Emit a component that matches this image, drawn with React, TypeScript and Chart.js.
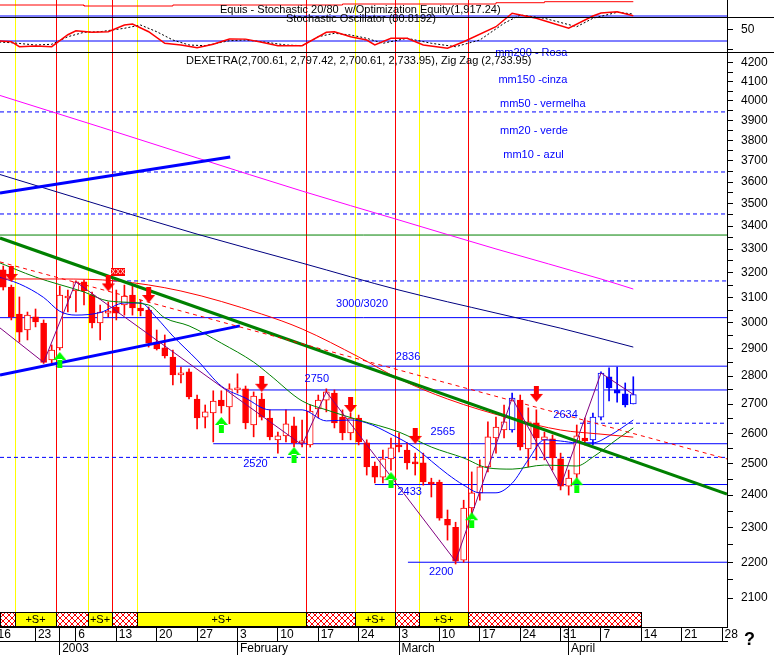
import React, { useEffect, useRef } from "react";
import { Chart, registerables } from "chart.js";

Chart.register(...registerables);

const FONT = '"Liberation Sans", Arial, sans-serif';

// x = trading-day index (0 = 23 Dec 2002)
const X_MIN = -4.4;
const X_MAX = 85.6;

const dayTickIdx = [-5, 0, 3, 5, 10, 15, 20, 25, 30, 35, 40, 45, 50, 55, 60, 65, 66, 70, 75, 80, 85];
const dayTickLabels = ["16", "23", "", "6", "13", "20", "27", "3", "10", "17", "24", "3", "10", "17", "24", "31", "", "7", "14", "21", "28"];
const monthTickIdx = [3, 25, 45, 66];
const monthTickLabels = ["2003", "February", "March", "April"];

const priceTicks = [2100, 2200, 2300, 2400, 2500, 2600, 2700, 2800, 2900, 3000, 3100, 3200, 3300, 3400, 3500, 3600, 3700, 3800, 3900, 4000, 4100, 4200];

const candleIdx = [
  -4, -3, -2, -1, 0, 1, 2, 3, 4, 5,
  6, 7, 8, 9, 10, 11, 12, 13, 14, 15,
  16, 17, 18, 19, 20, 21, 22, 23, 24, 25,
  26, 27, 28, 29, 30, 31, 32, 33, 34, 35,
  36, 37, 38, 39, 40, 41, 42, 43, 44, 45,
  46, 47, 48, 49, 50, 51, 52, 53, 54, 55,
  56, 57, 58, 59, 60, 61, 62, 63, 64, 65,
  66, 67, 68, 69, 70, 71, 72, 73, 74,
];
const opens = [
  3213, 3142, 3034, 2972, 3023, 2999, 2859, 2904, 3098, 3126,
  3163, 3110, 2999, 3038, 3062, 3070, 3110, 3058, 3050, 2926,
  2904, 2870, 2804, 2815, 2718, 2655, 2669, 2714, 2690, 2750,
  2754, 2628, 2718, 2652, 2578, 2591, 2625, 2568, 2561, 2683,
  2714, 2739, 2655, 2601, 2652, 2568, 2492, 2456, 2515, 2561,
  2544, 2502, 2502, 2441, 2441, 2326, 2302, 2206, 2360, 2407,
  2489, 2584, 2611, 2611, 2714, 2548, 2635, 2578, 2581, 2515,
  2428, 2466, 2584, 2578, 2655, 2797, 2750, 2736, 2700.61,
];
const highs = [
  3229, 3150, 3102, 3042, 3054, 3011, 2915, 3146, 3130, 3167,
  3171, 3122, 3070, 3082, 3130, 3150, 3154, 3090, 3062, 2972,
  2953, 2896, 2833, 2826, 2732, 2697, 2747, 2747, 2772, 2808,
  2764, 2743, 2739, 2680, 2604, 2680, 2655, 2645, 2697, 2732,
  2754, 2750, 2680, 2669, 2662, 2578, 2505, 2544, 2584, 2601,
  2568, 2534, 2534, 2453, 2447, 2354, 2317, 2384, 2473, 2512,
  2639, 2655, 2697, 2739, 2732, 2687, 2680, 2604, 2594, 2534,
  2479, 2628, 2652, 2669, 2815, 2830, 2833, 2775, 2797.42,
];
const lows = [
  3130, 3011, 2926, 2934, 2984, 2846, 2848, 2896, 3042, 3042,
  3070, 2980, 2934, 3023, 3011, 3030, 3030, 3027, 2907, 2896,
  2866, 2768, 2775, 2718, 2615, 2618, 2571, 2669, 2632, 2739,
  2615, 2588, 2645, 2578, 2534, 2571, 2554, 2554, 2554, 2652,
  2673, 2618, 2578, 2578, 2561, 2463, 2438, 2438, 2479, 2538,
  2482, 2463, 2431, 2394, 2323, 2264, 2195, 2200, 2332, 2384,
  2473, 2534, 2584, 2604, 2544, 2489, 2512, 2512, 2479, 2416,
  2400, 2453, 2561, 2561, 2645, 2711, 2707, 2690, 2700.61,
];
const closes = [
  3142, 3023, 2964, 3030, 3003, 2850, 2896, 3110, 3106, 3163,
  3126, 2999, 3042, 3046, 3038, 3106, 3058, 3046, 2922, 2900,
  2874, 2804, 2811, 2725, 2652, 2673, 2711, 2694, 2754, 2757,
  2635, 2728, 2655, 2588, 2591, 2632, 2568, 2574, 2676, 2714,
  2743, 2635, 2601, 2652, 2571, 2489, 2456, 2515, 2551, 2554,
  2502, 2499, 2441, 2434, 2329, 2308, 2203, 2360, 2407, 2489,
  2588, 2621, 2639, 2721, 2554, 2639, 2584, 2588, 2518, 2428,
  2453, 2591, 2574, 2655, 2811, 2757, 2739, 2697, 2733.95,
];
const blueCandles = [59, 69, 70, 71, 72, 73, 74];

// moving averages
const ma200Idx = [-5, 8, 20, 33, 45, 57, 70, 74];
const ma200Val = [4035, 3866, 3714, 3558, 3427, 3301, 3175, 3134];
const ma150Idx = [-5, 8, 20, 33, 45, 57, 65, 74];
const ma150Val = [3642, 3494, 3365, 3241, 3130, 3038, 2979, 2907];
const ma50Idx = [-5, 3, 10, 18, 28, 33, 40, 45, 51, 59, 65, 70, 74];
const ma50Val = [3175, 3175, 3167, 3126, 3034, 2976, 2870, 2790, 2718, 2649, 2611, 2597, 2587];
const ma20Idx = [-5, 0, 6, 9, 14, 16, 19, 23, 27, 29, 33, 36, 40, 45, 49, 53, 56, 59, 63, 67, 69, 72, 74];
const ma20Val = [3250, 3183, 3122, 3086, 3070, 3019, 2988, 2922, 2851, 2804, 2711, 2680, 2645, 2604, 2554, 2518, 2486, 2482, 2495, 2492, 2521, 2580, 2618];
const ma10Idx = [-5, -2, 1, 3, 5, 8, 11, 13, 15, 17, 20, 23, 26, 29, 33, 36, 39, 41, 44, 47, 49, 51, 53, 55, 57, 59, 61, 63, 65, 67, 69, 71, 74];
const ma10Val = [3187, 3155, 3100, 3045, 3030, 3040, 3078, 3078, 3019, 2949, 2859, 2764, 2721, 2680, 2680, 2642, 2645, 2635, 2597, 2551, 2508, 2466, 2431, 2407, 2407, 2437, 2512, 2578, 2574, 2568, 2568, 2591, 2645];

// Zig Zag pivots
const zzIdx = [-4.4, 1, 5, 33, 36, 52, 59, 65, 70, 74];
const zzVal = [2980, 2850, 3163, 2561, 2743, 2203, 2721, 2428, 2811, 2733.95];

// stochastic
const kIdx = [-5, -3, -2, 0, 2, 4, 5, 7, 9, 11, 12, 14, 16, 18, 20, 22, 24, 26, 28, 30, 33, 36, 37, 39, 41, 42, 44, 46, 48, 51, 53, 57, 59, 62, 66, 69, 70, 72, 74];
const kVal = [21, 18.3, 6.3, 8, 6.3, 35, 44.7, 40.9, 42.3, 58.4, 60.8, 42.3, 14.5, 10.4, 3.9, 12, 24.8, 24.5, 17, 8.7, 8.7, 40.9, 42, 30.3, 22.4, 10.4, 26.5, 26.5, 10.4, 2.5, 18.3, 54.3, 86.5, 74.5, 50.5, 80, 87, 90.3, 80.8192];
const dIdx = [-5, -3, 0, 2, 4, 6, 8, 11, 13, 15, 17, 19, 21, 24, 26, 28, 31, 33, 35, 37, 39, 41, 43, 46, 49, 52, 55, 58, 60, 63, 67, 69, 72, 74];
const dVal = [18, 15.9, 10.4, 12.1, 30.3, 40.9, 42.3, 50.5, 58.4, 42.3, 22.4, 10.4, 8.7, 20.7, 22.4, 18.3, 10.4, 8.7, 30.3, 38.5, 34.4, 26.5, 14.5, 26.5, 14.5, 6.3, 22.4, 62.5, 82.4, 74.5, 54.3, 74.5, 88.9, 84.8];
const stochLevels = [80, 20];

// optimization equity
const eqIdx = [-5, 6, 6, 17, 17, 38, 38, 57, 57, 63, 63, 74];
const eqVal = [1815, 1815, 1784, 1784, 1815, 1815, 1846, 1846, 1886, 1886, 1917.24, 1917.24];

// signals
const buySignalIdx = [-2.5, 6.5, 12.5, 39.5, 47.5];
const sellSignalIdx = [2.5, 9.5, 33.5, 44.5, 53.5];
const STRIP_END = 75;

const downArrowIdx = [-3, 9, 14, 28, 39, 47, 62];
const downArrowVal = [3196, 3157, 3110, 2772, 2697, 2591, 2736];
const upArrowIdx = [3, 23, 32, 44, 54, 67];
const upArrowVal = [2859, 2628, 2528, 2447, 2323, 2431];

// horizontal levels
const levelVals = [3942, 3647, 3454, 3361, 3167, 3020, 2836, 2750, 2634, 2565, 2520, 2433, 2200];
const levelFrom = [X_MIN, X_MIN, X_MIN, X_MIN, 9.6, X_MIN, 2.5, 25.5, 67.4, 22, X_MIN, 42, 46.1];
const levelStyle = ["dash", "dash", "dash", "green", "dash", "solid", "solid", "solid", "dash", "solid", "dash", "solid", "solid"];

const levelLabelText = ["3000/3020", "2836", "2750", "2634", "2565", "2520", "2433", "2200"];
const levelLabelIdx = [37.2, 44.6, 33.3, 64.1, 48.9, 25.7, 44.8, 48.7];
const levelLabelVal = [3073, 2870, 2789, 2663, 2604, 2498, 2410, 2172];

const maLegendText = ["mm200 - Rosa", "mm150 -cinza", "mm50 - vermelha", "mm20 - verde", "mm10 - azul"];
const maLegendIdx = [56.9, 57.3, 57.5, 57.5, 57.9];
const maLegendVal = [4255, 4109, 3983, 3846, 3728];

// trend lines [x0, v0, x1, v1]
const greenTrend = [X_MIN, 3348, X_MAX, 2403];
const blueUpper = [X_MIN, 3549, 24.1, 3719];
const blueLower = [X_MIN, 2804, 25.3, 2988];
const redDashTrend = [X_MIN, 3246, X_MAX, 2515];

const RED = "#FF0000";
const BLUE = "#0000FF";

function pts(xs: number[], ys: number[]) {
  return xs.map((x, k) => ({ x, y: ys[k] }));
}

function makeArrow(color: string, down: boolean) {
  const c = document.createElement("canvas");
  c.width = 13;
  c.height = 16;
  const g = c.getContext("2d")!;
  g.fillStyle = color;
  g.beginPath();
  if (down) {
    g.rect(4, 0, 5, 9);
    g.moveTo(0, 8);
    g.lineTo(13, 8);
    g.lineTo(6.5, 16);
  } else {
    g.rect(4, 7, 5, 9);
    g.moveTo(0, 8);
    g.lineTo(13, 8);
    g.lineTo(6.5, 0);
  }
  g.closePath();
  g.fill();
  return c;
}

function makeHatch() {
  const c = document.createElement("canvas");
  c.width = 6;
  c.height = 6;
  const g = c.getContext("2d")!;
  g.fillStyle = "#fff";
  g.fillRect(0, 0, 6, 6);
  g.strokeStyle = RED;
  g.lineWidth = 1;
  g.beginPath();
  g.moveTo(0, 0);
  g.lineTo(6, 6);
  g.moveTo(6, 0);
  g.lineTo(0, 6);
  g.stroke();
  return c;
}

const annotPlugin: any = {
  id: "annot",
  beforeDatasetsDraw(chart: any) {
    const { ctx, chartArea, scales } = chart;
    const x = scales.x;
    const stripTop = chartArea.bottom - 15;
    ctx.save();
    ctx.lineWidth = 1;
    const vline = (i: number, color: string) => {
      const px = Math.round(x.getPixelForValue(i)) + 0.5;
      ctx.strokeStyle = color;
      ctx.beginPath();
      ctx.moveTo(px, chartArea.top);
      ctx.lineTo(px, stripTop);
      ctx.stroke();
    };
    buySignalIdx.forEach((i) => vline(i, "#FFFF00"));
    sellSignalIdx.forEach((i) => vline(i, RED));
    ctx.restore();
  },
  afterDatasetsDraw(chart: any) {
    const { ctx, scales } = chart;
    const x = scales.x;
    const y = scales.y;
    ctx.save();
    ctx.textBaseline = "middle";
    ctx.textAlign = "left";
    ctx.font = `11px ${FONT}`;
    ctx.fillStyle = BLUE;
    levelLabelText.forEach((t, k) => {
      ctx.fillText(t, x.getPixelForValue(levelLabelIdx[k]), y.getPixelForValue(levelLabelVal[k]));
    });
    maLegendText.forEach((t, k) => {
      ctx.fillText(t, x.getPixelForValue(maLegendIdx[k]), y.getPixelForValue(maLegendVal[k]));
    });
    // exit marker box
    const bx = Math.round(x.getPixelForValue(10.2));
    const by = Math.round(y.getPixelForValue(3204));
    ctx.fillStyle = RED;
    ctx.fillRect(bx - 7, by - 4, 14, 8);
    ctx.fillStyle = "#fff";
    ctx.font = `7px ${FONT}`;
    ctx.textAlign = "center";
    ctx.fillText("XXX", bx, by + 0.5);
    ctx.restore();
  },
  afterDraw(chart: any) {
    const { ctx, chartArea, scales, width } = chart;
    const x = scales.x;
    const ys = scales.ys;
    const ye = scales.ye;
    ctx.save();
    // signal strip
    const top = chartArea.bottom - 15;
    const h = 15;
    const bounds = [
      ...buySignalIdx.map((v) => ({ v, kind: "S" })),
      ...sellSignalIdx.map((v) => ({ v, kind: "H" })),
    ].sort((a, b) => a.v - b.v);
    const segs: { from: number; to: number; kind: string }[] = [];
    let prev = X_MIN;
    let kind = "H";
    bounds.forEach((b) => {
      segs.push({ from: prev, to: b.v, kind });
      prev = b.v;
      kind = b.kind;
    });
    segs.push({ from: prev, to: STRIP_END, kind });
    const hatch = ctx.createPattern(makeHatch(), "repeat");
    ctx.font = `11px ${FONT}`;
    ctx.textAlign = "center";
    ctx.textBaseline = "middle";
    segs.forEach((s) => {
      const x0 = Math.round(x.getPixelForValue(s.from));
      const x1 = Math.round(x.getPixelForValue(s.to));
      if (s.kind === "S") {
        ctx.fillStyle = "#FFFF00";
        ctx.fillRect(x0, top, x1 - x0, h);
        ctx.fillStyle = "#000";
        ctx.fillText("+S+", (x0 + x1) / 2, top + h / 2 + 0.5);
      } else {
        ctx.fillStyle = hatch;
        ctx.fillRect(x0, top, x1 - x0, h);
      }
      ctx.strokeStyle = "#000";
      ctx.lineWidth = 1;
      ctx.strokeRect(x0 + 0.5, top + 0.5, x1 - x0, h - 1);
    });
    // panel separators
    ctx.strokeStyle = "#000";
    ctx.lineWidth = 1;
    const sep1 = Math.round(ye.getPixelForValue(1443)) + 0.5;
    const sep2 = Math.round(ys.getPixelForValue(-6.4)) + 0.5;
    [sep1, sep2].forEach((py) => {
      ctx.beginPath();
      ctx.moveTo(0, py);
      ctx.lineTo(width, py);
      ctx.stroke();
    });
    // stochastic axis tick + label
    const right = chartArea.right;
    [50, 0].forEach((v) => {
      const py = Math.round(ys.getPixelForValue(v)) + 0.5;
      ctx.beginPath();
      ctx.moveTo(right, py);
      ctx.lineTo(right + 6, py);
      ctx.stroke();
    });
    ctx.fillStyle = "#000";
    ctx.font = `12px ${FONT}`;
    ctx.textAlign = "left";
    ctx.fillText("50", right + 14, ys.getPixelForValue(50) + 1.5);
    // headers
    ctx.font = `11px ${FONT}`;
    ctx.fillText("Equis - Stochastic 20/80  w/Optimization Equity(1,917.24)", 220, 10);
    ctx.fillText("Stochastic Oscillator (80.8192)", 286, 19);
    ctx.fillText("DEXETRA(2,700.61, 2,797.42, 2,700.61, 2,733.95), Zig Zag (2,733.95)", 186, 61);
    ctx.font = `bold 18px ${FONT}`;
    ctx.fillText("?", 744, 640);
    ctx.restore();
  },
};

export default function App() {
  const ref = useRef<HTMLCanvasElement>(null);

  useEffect(() => {
    const canvas = ref.current!;
    Chart.defaults.font.family = FONT;
    Chart.defaults.color = "#000";

    const isBlue = (i: number) => blueCandles.includes(i);
    const candleColor = candleIdx.map((i) => (isBlue(i) ? BLUE : RED));
    const isUp = candleIdx.map((_, k) => closes[k] >= opens[k]);

    const lineDs = (data: any[], color: string, extra: any = {}) => ({
      type: "line",
      data,
      borderColor: color,
      backgroundColor: color,
      borderWidth: 1,
      pointRadius: 0,
      fill: false,
      tension: 0,
      yAxisID: "y",
      ...extra,
    });

    const datasets: any[] = [];

    // horizontal levels
    levelVals.forEach((v, k) => {
      const st = levelStyle[k];
      datasets.push(
        lineDs([{ x: levelFrom[k], y: v }, { x: X_MAX, y: v }], st === "green" ? "#008000" : BLUE, {
          borderDash: st === "dash" ? [4, 3] : [],
          order: 10,
        })
      );
    });

    // stochastic levels & lines
    stochLevels.forEach((v) => {
      datasets.push(lineDs([{ x: X_MIN, y: v }, { x: X_MAX, y: v }], BLUE, { yAxisID: "ys", order: 9 }));
    });
    datasets.push(lineDs(pts(dIdx, dVal), "#000", { yAxisID: "ys", borderDash: [2, 2], order: 8 }));
    datasets.push(lineDs(pts(kIdx, kVal), RED, { yAxisID: "ys", borderWidth: 1.5, order: 7 }));
    datasets.push(lineDs(pts(eqIdx, eqVal), RED, { yAxisID: "ye", order: 7 }));

    // candles: wicks then bodies
    datasets.push({
      type: "bar",
      data: candleIdx.map((i, k) => ({ x: i, y: [lows[k], highs[k]] })),
      backgroundColor: candleColor,
      borderWidth: 0,
      grouped: false,
      barThickness: 1,
      maxBarThickness: 1,
      yAxisID: "y",
      order: 6,
    });
    datasets.push({
      type: "bar",
      data: candleIdx.map((i, k) => ({
        x: i,
        y: [Math.min(opens[k], closes[k]), Math.max(opens[k], closes[k])],
      })),
      backgroundColor: candleIdx.map((_, k) => (isUp[k] ? "#FFFFFF" : candleColor[k])),
      borderColor: candleColor,
      borderWidth: 1,
      borderSkipped: false,
      grouped: false,
      barThickness: 6,
      maxBarThickness: 6,
      minBarLength: 2,
      yAxisID: "y",
      order: 5,
    });

    // moving averages
    const maOpts = { cubicInterpolationMode: "monotone", order: 4 };
    datasets.push(lineDs(pts(ma200Idx, ma200Val), "#FF00FF", maOpts));
    datasets.push(lineDs(pts(ma150Idx, ma150Val), "#000080", maOpts));
    datasets.push(lineDs(pts(ma50Idx, ma50Val), RED, maOpts));
    datasets.push(lineDs(pts(ma20Idx, ma20Val), "#008000", maOpts));
    datasets.push(lineDs(pts(ma10Idx, ma10Val), BLUE, maOpts));

    // trend lines
    const tl = (a: number[]) => [{ x: a[0], y: a[1] }, { x: a[2], y: a[3] }];
    datasets.push(lineDs(tl(redDashTrend), RED, { borderDash: [4, 4], order: 3 }));
    datasets.push(lineDs(tl(greenTrend), "#008000", { borderWidth: 3, order: 3 }));
    datasets.push(lineDs(tl(blueUpper), BLUE, { borderWidth: 3, order: 3 }));
    datasets.push(lineDs(tl(blueLower), BLUE, { borderWidth: 3, order: 3 }));

    // zig zag
    datasets.push(lineDs(pts(zzIdx, zzVal), "#800080", { order: 2 }));

    // arrows
    datasets.push({
      type: "line",
      data: pts(downArrowIdx, downArrowVal),
      showLine: false,
      pointStyle: makeArrow(RED, true),
      pointRadius: 8,
      yAxisID: "y",
      order: 1,
    });
    datasets.push({
      type: "line",
      data: pts(upArrowIdx, upArrowVal),
      showLine: false,
      pointStyle: makeArrow("#00FF00", false),
      pointRadius: 8,
      yAxisID: "y",
      order: 1,
    });

    const minorTicks = priceTicks.slice(0, -1).map((v, k) => (v + priceTicks[k + 1]) / 2);
    const allPriceTicks = [...priceTicks, ...minorTicks].sort((a, b) => a - b);

    const chart = new Chart(canvas, {
      type: "line",
      data: { datasets },
      options: {
        animation: false,
        responsive: false,
        devicePixelRatio: 1,
        events: [],
        layout: { padding: 0, autoPadding: false },
        plugins: {
          legend: { display: false },
          tooltip: { enabled: false },
          title: { display: false },
        },
        scales: {
          x: {
            type: "linear",
            min: X_MIN,
            max: X_MAX,
            offset: false,
            position: "bottom",
            weight: 0,
            afterBuildTicks: (s: any) => {
              s.ticks = dayTickIdx.map((v) => ({ value: v }));
            },
            afterFit: (s: any) => {
              s.height = 14;
              s.paddingLeft = 0;
              s.paddingRight = 0;
            },
            ticks: {
              autoSkip: false,
              maxRotation: 0,
              minRotation: 0,
              align: "start",
              padding: -14,
              color: "#000",
              font: { size: 12, family: FONT },
              callback: (_v: any, idx: number) => "\u2009" + dayTickLabels[idx],
            },
            grid: { drawOnChartArea: false, tickLength: 14, color: "#000", offset: false },
            border: { display: true, color: "#000" },
          },
          x2: {
            type: "linear",
            min: X_MIN,
            max: X_MAX,
            offset: false,
            position: "bottom",
            weight: 1,
            afterBuildTicks: (s: any) => {
              s.ticks = monthTickIdx.map((v) => ({ value: v }));
            },
            afterFit: (s: any) => {
              s.height = 14;
              s.paddingLeft = 0;
              s.paddingRight = 0;
            },
            ticks: {
              autoSkip: false,
              maxRotation: 0,
              minRotation: 0,
              align: "start",
              padding: -14,
              color: "#000",
              font: { size: 12, family: FONT },
              callback: (_v: any, idx: number) => "\u2009" + monthTickLabels[idx],
            },
            grid: { drawOnChartArea: false, tickLength: 14, color: "#000", offset: false },
            border: { display: true, color: "#000" },
          },
          y: {
            type: "logarithmic",
            position: "right",
            min: 2023,
            max: 4557,
            afterBuildTicks: (s: any) => {
              s.ticks = allPriceTicks.map((v) => ({ value: v }));
            },
            afterFit: (s: any) => {
              s.width = 47;
              s.paddingTop = 0;
              s.paddingBottom = 0;
            },
            ticks: {
              autoSkip: false,
              padding: 8,
              color: "#000",
              font: { size: 12, family: FONT },
              callback: (v: any) => (Number(v) % 100 === 0 ? String(v) : ""),
            },
            grid: { drawOnChartArea: false, tickLength: 6, color: "#000" },
            border: { display: true, color: "#000" },
          },
          ys: {
            type: "linear",
            display: false,
            min: -1386.4,
            max: 118.4,
          },
          ye: {
            type: "linear",
            display: false,
            min: -17467,
            max: 1970,
          },
        },
      } as any,
      plugins: [annotPlugin],
    } as any);

    return () => chart.destroy();
  }, []);

  return (
    <div style={{ position: "absolute", left: 0, top: 0, width: 774, height: 655, background: "#fff" }}>
      <canvas ref={ref} width={774} height={655} style={{ display: "block", width: 774, height: 655 }} />
    </div>
  );
}
